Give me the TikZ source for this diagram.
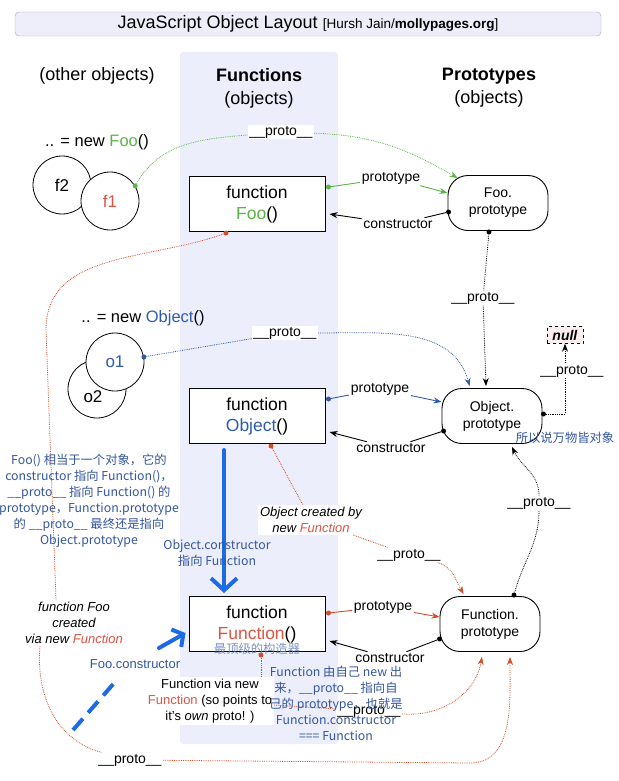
\documentclass[tikz,border=0pt]{standalone}
\usepackage{fontspec}
\setmainfont{Liberation Sans}
\newfontfamily\cjk{Noto Sans CJK SC}
\usepackage{tikz}
\usetikzlibrary{arrows.meta,calc}
\definecolor{jsgreen}{HTML}{5BB544}
\definecolor{jsblue}{HTML}{2F5BAA}
\definecolor{jsred}{HTML}{DC5444}
\definecolor{jsorange}{HTML}{D24E28}
\definecolor{jsband}{HTML}{ECEEFC}
\definecolor{jstitle}{HTML}{EEEEFA}
\definecolor{jsnote}{HTML}{34569E}
\definecolor{jspen}{HTML}{1D6AE5}
\definecolor{jsnull}{HTML}{FBEEEE}

\begin{document}
\begin{tikzpicture}[x=1pt,y=1pt,
  fbox/.style={rectangle,draw,line width=1pt,fill=white,minimum width=136pt,
    minimum height=55pt,align=center,font=\fontsize{17.5}{21}\selectfont},
  pbox/.style={rectangle,rounded corners=20pt,draw,line width=0.9pt,fill=white,
    minimum width=100pt,minimum height=55pt,align=center,font=\fontsize{14}{17}\selectfont},
  ring/.style={circle,draw,line width=0.8pt,fill=white,minimum size=58pt,inner sep=0pt,
    font=\fontsize{17}{20}\selectfont},
  lbl/.style={fill=white,inner sep=1.5pt,font=\fontsize{14}{16}\selectfont},
  ilbl/.style={fill=white,inner sep=2pt,align=center,font=\fontsize{13}{16}\selectfont\itshape},
  hd/.style={align=center,font=\fontsize{18}{23}\selectfont},
  note/.style={align=center,text=jsnote,font=\cjk\fontsize{12.3}{16}\selectfont},
  pdot/.style={circle,fill,inner sep=0pt,minimum size=5pt},
  arr/.style={-{Stealth[length=8pt,width=6pt]}},
  link/.style={line width=0.9pt},
  proto/.style={densely dotted,line width=0.8pt},
  penline/.style={jspen,line width=4pt,line cap=round}]
  \useasboundingbox (0,0) rectangle (618,-781);
  \fill[jsband,rounded corners=3pt] (180,-52) rectangle (338,-744);
  \node[draw=gray!70,fill=jstitle,rounded corners=4pt,minimum width=586pt,minimum height=24pt,inner sep=0pt] (title) at (308,-24)
    {\fontsize{18}{20}\selectfont JavaScript Object Layout \fontsize{13.5}{16}\selectfont[Hursh Jain/\textbf{mollypages.org}]};

  % column heads
  \node[hd] (hother) at (97,-76) {(other objects)};
  \node[hd] (hfunc) at (259,-88) {\textbf{Functions}\\(objects)};
  \node[hd] (hproto) at (489,-87.5) {\textbf{Prototypes}\\(objects)};

  % other objects
  \node[font=\fontsize{16.5}{20}\selectfont] (newfoo) at (97,-142) {.. = new \textcolor{jsgreen}{Foo}()};
  \node[ring] (f2) at (62,-185) {f2};
  \node[ring,text=jsred] (f1) at (110,-201) {f1};
  \node[font=\fontsize{16.5}{20}\selectfont] (newobj) at (143,-318) {.. = new \textcolor{jsblue}{Object}()};
  \node[ring] (o2) at (97,-389) {};
  \node[font=\fontsize{17}{20}\selectfont] (o2txt) at (93,-397) {o2};
  \node[ring,text=jsblue] (o1) at (115,-362) {o1};

  % functions and prototypes
  \node[fbox] (foo) at (257,-204) {function\\\textcolor{jsgreen}{Foo}()};
  \node[fbox] (object) at (257,-416) {function\\\textcolor{jsblue}{Object}()};
  \node[fbox] (function) at (257,-624) {function\\\textcolor{jsred}{Function}()};
  \node[pbox] (fooproto) at (498,-203) {Foo.\\prototype};
  \node[pbox] (objproto) at (492,-416) {Object.\\prototype};
  \node[pbox] (funproto) at (490,-624) {Function.\\prototype};
  \node[draw,dashed,fill=jsnull,inner sep=2pt,minimum width=36pt,minimum height=17pt,
    font=\fontsize{14}{16}\selectfont] (null) at (565,-335) {\textbf{\textit{null}}};

  % prototype / constructor
  \node[lbl] (fooP) at (391,-178) {prototype};
  \node[lbl] (fooC) at (398,-224) {constructor};
  \node[lbl] (objP) at (380,-389) {prototype};
  \node[lbl] (objC) at (391,-448) {constructor};
  \node[lbl] (funP) at (383,-607) {prototype};
  \node[lbl] (funC) at (390,-658) {constructor};
  \node[pdot,jsgreen] (fooPd) at ($(foo.east)+(3,17)$) {};
  \node[pdot] (fooCd) at ($(fooproto.west)+(1,-9)$) {};
  \node[pdot,jsblue] (objPd) at ($(object.east)+(3,17)$) {};
  \node[pdot] (objCd) at ($(objproto.west)+(2,-15)$) {};
  \node[pdot,jsorange] (funPd) at ($(function.east)+(3,11)$) {};
  \node[pdot] (funCd) at ($(funproto.west)+(0,-15)$) {};
  \draw[link,jsgreen] (fooPd) -- (fooP); \draw[link,jsgreen,arr] (fooP) -- ($(fooproto.west)+(0,10)$);
  \draw[link] (fooCd) -- (fooC); \draw[link,arr] (fooC) -- ($(foo.east)+(4,-10)$);
  \draw[link,jsblue] (objPd) -- (objP); \draw[link,jsblue,arr] (objP) -- ($(objproto.west)+(0,14)$);
  \draw[link] (objCd) -- (objC); \draw[link,arr] (objC) -- ($(object.east)+(4,-16)$);
  \draw[link,jsorange] (funPd) -- (funP); \draw[link,jsorange,arr] (funP) -- ($(funproto.west)+(0,7)$);
  \draw[link] (funCd) -- (funC); \draw[link,arr] (funC) -- ($(function.east)+(4,-17)$);

  % __proto__ labels
  \node[lbl] (pA) at (281,-132) {\_\_proto\_\_};
  \node[lbl] (pB) at (285,-333) {\_\_proto\_\_};
  \node[lbl] (pC) at (483,-298) {\_\_proto\_\_};
  \node[lbl] (pE) at (539,-503) {\_\_proto\_\_};
  \node[lbl] (pF) at (409,-555) {\_\_proto\_\_};
  \node[lbl] (pG) at (130,-760) {\_\_proto\_\_};
  \node[lbl] (pH) at (369,-711) {\_\_proto\_\_};
  \node[ilbl] (objnew) at (311,-520) {Object created by\\new \textcolor{jsred}{Function}};
  \node[ilbl] (foonew) at (74,-623) {function Foo\\created\\via new \textcolor{jsred}{Function}};
  \node[fill=white,inner sep=2pt,align=center,font=\fontsize{13}{16}\selectfont] (funnew) at (210,-701)
    {Function via new\\\textcolor{jsred}{Function} (so points to\\it's \textit{own} proto! )};

  % __proto__ dots
  \node[pdot,jsgreen] (f1d) at (f1.31) {};
  \node[pdot,jsblue] (o1d) at (o1.10) {};
  \node[pdot] (fpd) at ($(fooproto.south)+(-9,-1)$) {};
  \node[pdot] (opd) at ($(objproto.east)+(1,2)$) {};
  \node[pdot] (fnpd) at ($(funproto.north)+(24,1)$) {};
  \node[pdot,jsorange] (objd) at ($(object.south)+(14,-2)$) {};
  \node[pdot,jsorange] (food) at ($(foo.south)+(-31,-1)$) {};
  \node[pdot,jsorange] (fund) at ($(function.south)+(4,-3)$) {};
  \coordinate (rA) at (46,-330);
  \coordinate (rB) at (470,-763);

  % __proto__ chains
  \draw[proto,jsgreen] (f1d) to[out=60,in=185] (pA);
  \draw[proto,jsgreen,arr] (pA) to[out=-2,in=150] ($(fooproto.north west)+(10,-3)$);
  \draw[proto,jsblue] (o1d) -- (pB);
  \draw[proto,jsblue,arr] (pB) to[out=0,in=105] ($(objproto.north west)+(28,2)$);
  \draw[proto] (fpd) -- (pC); \draw[proto,arr] (pC) -- ($(objproto.north)+(-6,2)$);
  \draw[proto,arr] (opd) -| (null);
  \node[lbl] (pD) at (572,-371) {\_\_proto\_\_};
  \draw[proto] (fnpd) to[out=75,in=-90] (pE);
  \draw[proto,arr] (pE) to[out=90,in=-65] ($(objproto.south)+(20,-3)$);
  \draw[proto,jsorange] (objd) -- (objnew); \draw[proto,jsorange] (objnew) -- (pF);
  \draw[proto,jsorange,arr] (pF) to[out=-15,in=120] ($(funproto.north west)+(24,2)$);
  \draw[proto,jsorange] (food) to[out=200,in=90] (rA) -- ([xshift=-18pt]foonew.north);
  \draw[proto,jsorange] ([xshift=-34pt]foonew.south) to[out=-95,in=165] (pG);
  \draw[proto,jsorange,arr] (pG) -- (rB) to[out=0,in=-90] ($(funproto.south)+(20,-5)$);
  \draw[proto,jsorange] (fund) -- (fund |- funnew.north);
  \draw[proto,jsorange] (funnew) -- (pH);
  \draw[proto,jsorange,arr] (pH) to[out=-5,in=-100] ($(funproto.south)+(-8,-5)$);

  % hand-drawn blue marks
  \draw[penline,-{Straight Barb[length=12pt,width=26pt]}] ([xshift=-33pt,yshift=-6pt]object.south) -- ([xshift=-33pt,yshift=3pt]function.north);
  \node[text=jsnote,font=\fontsize{13}{16}\selectfont] (fooctor) at (135,-664) {Foo.constructor};
  \coordinate (fcA) at (73,-730); \coordinate (fcB) at (115,-682); \coordinate (fcC) at (159,-648);
  \draw[penline,line cap=butt,dash pattern=on 15pt off 8pt] (fcA) -- (fcB);
  \draw[penline,-{Straight Barb[length=8pt,width=20pt]}] (fcC) -- ([xshift=-3pt,yshift=-9pt]function.west);

  % notes
  \node[note] (nfoo) at (89,-501) {Foo() 相当于一个对象，它的\\constructor 指向 Function()，\\\_\_proto\_\_ 指向 Function() 的\\prototype，Function.prototype\\的 \_\_proto\_\_ 最终还是指向\\Object.prototype};
  \node[note] (nobj) at (217,-553) {Object.constructor\\指向 Function};
  \node[note,text=jsnote!75,opacity=0.85] (ntop) at (257,-649) {最顶级的构造器};
  \node[note] (nfun) at (336,-703) {Function 由自己 new 出\\来，\_\_proto\_\_ 指向自\\己的 prototype，也就是\\Function.constructor\\=== Function};
  \node[note] (nall) at (565,-438) {所以说万物皆对象};
\end{tikzpicture}
\end{document}
